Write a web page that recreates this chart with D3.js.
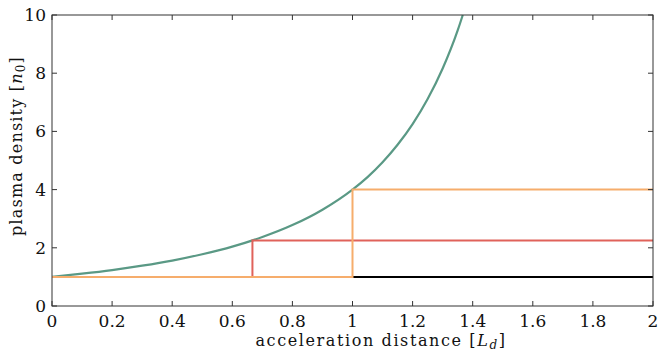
<!DOCTYPE html>
<html>
<head>
<meta charset="utf-8">
<script src="https://cdn.jsdelivr.net/npm/d3@7"></script>
<style>
  body { margin: 0; background: #fff; }
  svg text { fill: #111; }
</style>
</head>
<body>
<div id="chart"></div>
<script>
// density profile
var curveX = [0, 0.1, 0.2, 0.3, 0.4, 0.5, 0.6, 0.7, 0.8, 0.9, 1.0, 1.05, 1.1, 1.15, 1.2, 1.25, 1.3, 1.35, 1.367];
var curveY = [1, 1.11, 1.235, 1.385, 1.56, 1.78, 2.04, 2.37, 2.78, 3.31, 4.0, 4.43, 4.94, 5.54, 6.25, 7.11, 8.16, 9.47, 10];

// step profiles
var blackX = [0, 2];
var blackY = [1, 1];
var redX = [0.667, 0.667, 2];
var redY = [1, 2.25, 2.25];
var orangeX = [0, 1, 1, 2];
var orangeY = [1, 1, 4, 4];

var xTicks = [0, 0.2, 0.4, 0.6, 0.8, 1, 1.2, 1.4, 1.6, 1.8, 2];
var yTicks = [0, 2, 4, 6, 8, 10];

var width = 664, height = 356;
var pl = 52, pr = 653, pt = 15, pb = 306;
var serif = "DejaVu Serif";

var x = d3.scaleLinear().domain([0, 2]).range([pl, pr]);
var y = d3.scaleLinear().domain([0, 10]).range([pb, pt]);

var svg = d3.select("#chart").append("svg")
  .attr("width", width)
  .attr("height", height)
  .attr("font-family", serif);

function pts(xs, ys) {
  return xs.map(function(d, i) { return [d, ys[i]]; });
}

var line = d3.line()
  .x(function(d) { return x(d[0]); })
  .y(function(d) { return y(d[1]); });

var plot = svg.append("g");

plot.append("path").datum(pts(blackX, blackY))
  .attr("d", line).attr("fill", "none")
  .attr("stroke", "#000").attr("stroke-width", 2);

plot.append("path").datum(pts(curveX, curveY))
  .attr("d", line.curve(d3.curveMonotoneX)).attr("fill", "none")
  .attr("stroke", "#5a9985").attr("stroke-width", 2.2);
line.curve(d3.curveLinear);

plot.append("path").datum(pts(redX, redY))
  .attr("d", line).attr("fill", "none")
  .attr("stroke", "#e0625a").attr("stroke-width", 2);

plot.append("path").datum(pts(orangeX, orangeY))
  .attr("d", line).attr("fill", "none")
  .attr("stroke", "#f6ad6c").attr("stroke-width", 2);

// axes, ticks pointing inward on all four sides
var tk = 5;
var ax = svg.append("g").attr("stroke", "#333").attr("stroke-width", 1);

ax.append("rect")
  .attr("x", pl).attr("y", pt)
  .attr("width", pr - pl).attr("height", pb - pt)
  .attr("fill", "none");

xTicks.forEach(function(t) {
  ax.append("line").attr("x1", x(t)).attr("x2", x(t)).attr("y1", pb).attr("y2", pb - tk);
  ax.append("line").attr("x1", x(t)).attr("x2", x(t)).attr("y1", pt).attr("y2", pt + tk);
});
yTicks.forEach(function(t) {
  ax.append("line").attr("x1", pl).attr("x2", pl + tk).attr("y1", y(t)).attr("y2", y(t));
  ax.append("line").attr("x1", pr).attr("x2", pr - tk).attr("y1", y(t)).attr("y2", y(t));
});

svg.selectAll(".xl").data(xTicks).enter().append("text")
  .attr("x", function(d) { return x(d); })
  .attr("y", 327)
  .attr("text-anchor", "middle")
  .attr("font-size", 17)
  .text(function(d) { return d; });

svg.selectAll(".yl").data(yTicks).enter().append("text")
  .attr("x", 46)
  .attr("y", function(d) { return y(d) + 6; })
  .attr("text-anchor", "end")
  .attr("font-size", 17)
  .text(function(d) { return d; });

var xlab = svg.append("text")
  .attr("x", 381).attr("y", 346)
  .attr("text-anchor", "middle")
  .attr("font-size", 16)
  .attr("letter-spacing", 1.6);
xlab.append("tspan").text("acceleration distance [");
xlab.append("tspan").attr("font-style", "italic").text("L");
xlab.append("tspan").attr("font-style", "italic").attr("font-size", 12).attr("dy", 3).text("d");
xlab.append("tspan").attr("dy", -3).text("]");

var ylab = svg.append("text")
  .attr("transform", "translate(22,146) rotate(-90)")
  .attr("text-anchor", "middle")
  .attr("font-size", 16)
  .attr("letter-spacing", 1.2);
ylab.append("tspan").text("plasma density [");
ylab.append("tspan").attr("font-style", "italic").text("n");
ylab.append("tspan").attr("font-size", 12).attr("dy", 3).text("0");
ylab.append("tspan").attr("dy", -3).text("]");
</script>
</body>
</html>
